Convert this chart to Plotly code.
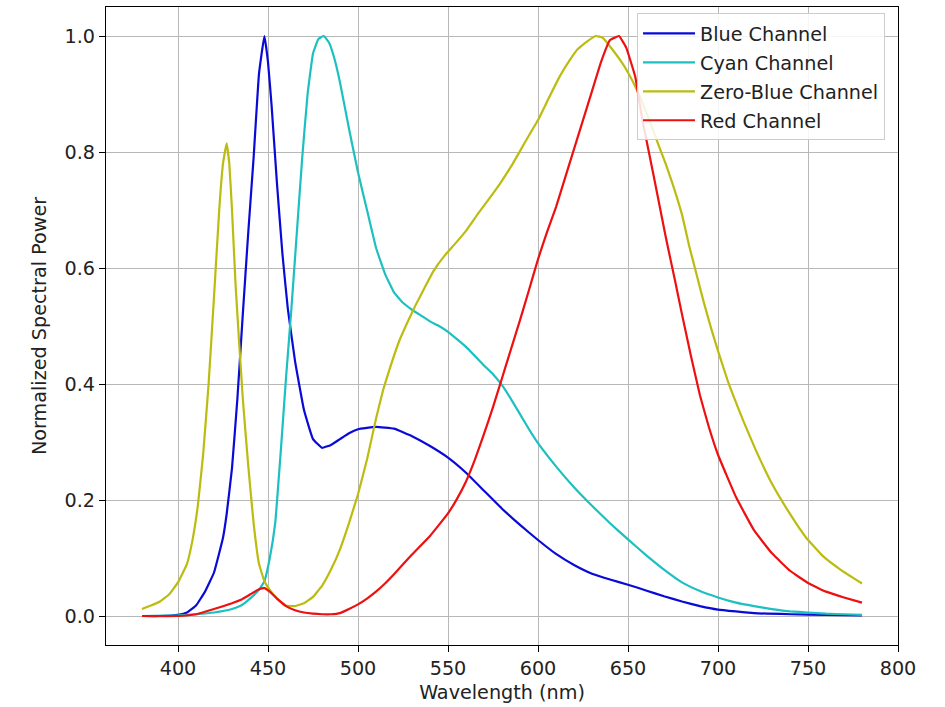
import plotly.graph_objects as go

# ---------------- data ----------------
blue_wl = [380, 390, 400, 405, 410, 415, 420, 425, 427, 430, 433, 436, 439, 442, 445, 448,
           450, 452, 455, 458, 461, 465, 470, 475, 480, 485, 490, 495, 500, 510, 520, 530,
           540, 550, 560, 570, 580, 590, 600, 610, 620, 630, 640, 650, 660, 670, 680, 690,
           700, 720, 740, 760, 780]
blue_val = [0.0, 0.0, 0.002, 0.006, 0.018, 0.042, 0.075, 0.135, 0.175, 0.255, 0.375, 0.52, 0.66, 0.79, 0.935, 1.0,
            0.955, 0.88, 0.745, 0.625, 0.53, 0.44, 0.355, 0.305, 0.29, 0.295, 0.305, 0.315, 0.322, 0.326, 0.323, 0.31,
            0.293, 0.273, 0.247, 0.216, 0.185, 0.157, 0.131, 0.107, 0.088, 0.073, 0.063, 0.054, 0.044, 0.034, 0.025, 0.017,
            0.011, 0.005, 0.003, 0.002, 0.001]

cyan_wl = [380, 400, 410, 420, 430, 435, 440, 445, 448, 451, 454, 457, 460, 463, 466, 469,
           472, 475, 478, 481, 484, 487, 490, 495, 500, 505, 510, 515, 520, 525, 530, 535,
           540, 545, 550, 560, 570, 575, 580, 585, 590, 595, 600, 610, 620, 630,
           640, 650, 660, 670, 680, 690, 700, 710, 720, 730, 740, 750, 760, 770, 780]
cyan_val = [0.0, 0.001, 0.003, 0.006, 0.012, 0.018, 0.03, 0.045, 0.06, 0.1, 0.16, 0.28, 0.41, 0.53, 0.66, 0.79,
            0.9, 0.97, 0.995, 1.0, 0.988, 0.96, 0.92, 0.84, 0.765, 0.7, 0.635, 0.59, 0.558, 0.54, 0.528, 0.518,
            0.508, 0.5, 0.49, 0.464, 0.432, 0.417, 0.398, 0.374, 0.348, 0.322, 0.298, 0.258, 0.222, 0.19,
            0.16, 0.132, 0.105, 0.08, 0.058, 0.043, 0.032, 0.023, 0.017, 0.012, 0.008, 0.006, 0.004, 0.003, 0.002]

zero_blue_wl = [380, 385, 390, 395, 400, 405, 408, 411, 414, 417, 420, 423, 425, 427, 428.5, 430,
                432, 434, 436, 439, 442, 445, 448, 451, 455, 460, 465, 470, 475, 480, 485, 490,
                495, 500, 505, 510, 514, 518, 523, 528, 532, 537, 542, 548, 554, 560, 567, 573,
                579, 586, 593, 600, 606, 612, 618, 622, 627, 632, 636, 641, 646, 650, 656, 661,
                666, 671, 675, 680, 684, 688, 692, 696, 700, 706, 714, 721, 730, 740, 749, 758,
                768, 780]
zero_blue_val = [0.012, 0.018, 0.025, 0.037, 0.058, 0.09, 0.13, 0.19, 0.28, 0.4, 0.55, 0.705, 0.78, 0.815, 0.78, 0.7,
                 0.57, 0.47, 0.375, 0.26, 0.16, 0.09, 0.06, 0.045, 0.03, 0.018, 0.017, 0.022, 0.033, 0.052, 0.08, 0.115,
                 0.16, 0.21, 0.27, 0.34, 0.39, 0.43, 0.475, 0.51, 0.536, 0.566, 0.595, 0.621, 0.642, 0.664, 0.695, 0.72,
                 0.746, 0.78, 0.818, 0.855, 0.893, 0.93, 0.96, 0.977, 0.99, 1.0, 0.997, 0.978, 0.957, 0.937, 0.9, 0.862,
                 0.82, 0.779, 0.743, 0.692, 0.638, 0.59, 0.542, 0.498, 0.457, 0.4, 0.337, 0.286, 0.228, 0.176, 0.135, 0.104,
                 0.08, 0.056]

red_wl = [380, 400, 410, 420, 430, 435, 440, 445, 448, 451, 455, 460, 465, 470, 475, 480,
          485, 490, 495, 500, 505, 510, 515, 520, 530, 540, 550, 555, 560, 565, 570,
          575, 580, 585, 590, 595, 600, 605, 610, 615, 620, 625, 630, 635, 640, 645, 649,
          654, 658, 664, 671, 676, 680, 685, 690, 695, 700, 710, 720, 730, 740, 750,
          760, 770, 780]
red_val = [0.0, 0.0, 0.003, 0.012, 0.022, 0.028, 0.037, 0.046, 0.048, 0.042, 0.03, 0.017, 0.01, 0.006, 0.004, 0.003,
           0.003, 0.005, 0.012, 0.02, 0.03, 0.042, 0.056, 0.072, 0.106, 0.138, 0.177, 0.202, 0.232, 0.27, 0.314,
           0.36, 0.41, 0.46, 0.51, 0.562, 0.615, 0.662, 0.705, 0.755, 0.805, 0.855, 0.905, 0.955, 0.993, 1.0, 0.98,
           0.93, 0.855, 0.763, 0.653, 0.58, 0.52, 0.448, 0.38, 0.325, 0.278, 0.205, 0.148, 0.108, 0.078, 0.057,
           0.042, 0.032, 0.023]

series_names = ["Blue Channel", "Cyan Channel", "Zero-Blue Channel", "Red Channel"]
x_ticks = [400, 450, 500, 550, 600, 650, 700, 750, 800]
y_ticks = [0.0, 0.2, 0.4, 0.6, 0.8, 1.0]
y_tick_labels = ["0.0", "0.2", "0.4", "0.6", "0.8", "1.0"]

# ---------------- figure ----------------
colors = ["#0a0ad8", "#1cc0c0", "#bcbc10", "#ee1010"]
data = [(blue_wl, blue_val), (cyan_wl, cyan_val), (zero_blue_wl, zero_blue_val), (red_wl, red_val)]

FONT = "DejaVu Sans"
FS = 19.2
TXT = "#222222"
fig = go.Figure()
for i, ((wl, val), name, col) in enumerate(zip(data, series_names, colors)):
    fig.add_trace(go.Scatter(
        x=wl, y=val, mode="lines", name=name, legendgroup=f"g{i}",
        line=dict(color=col, width=2.2, shape="spline", smoothing=0.3),
    ))

axis_common = dict(
    showline=True, linecolor="black", linewidth=1.3, mirror=True,
    ticks="outside", ticklen=6, tickwidth=1.2, tickcolor="black",
    showgrid=True, gridcolor="#b8b8b8", gridwidth=1.4,
    zeroline=False,
    tickfont=dict(family=FONT, size=FS, color=TXT),
)

fig.update_layout(
    width=945, height=707,
    margin=dict(l=106, r=47, t=7, b=62),
    paper_bgcolor="white", plot_bgcolor="white",
    font=dict(family=FONT, size=FS, color=TXT),
    xaxis=dict(
        range=[360, 800], tickvals=x_ticks, ticktext=[str(v) for v in x_ticks],
        title=dict(text="Wavelength (nm)", font=dict(family=FONT, size=FS, color=TXT), standoff=6),
        **axis_common,
    ),
    yaxis=dict(
        range=[-0.05, 1.05], tickvals=y_ticks, ticktext=y_tick_labels,
        title=dict(text="Normalized Spectral Power", font=dict(family=FONT, size=FS, color=TXT), standoff=12),
        **axis_common,
    ),
    legend=dict(
        x=0.6705, y=0.99, xanchor="left", yanchor="top",
        bgcolor="rgba(255,255,255,0.85)", bordercolor="#cccccc", borderwidth=1,
        font=dict(family=FONT, size=FS, color=TXT),
        traceorder="grouped", tracegroupgap=1, itemwidth=52,
    ),
    showlegend=True,
)

fig.write_html("out.html")
